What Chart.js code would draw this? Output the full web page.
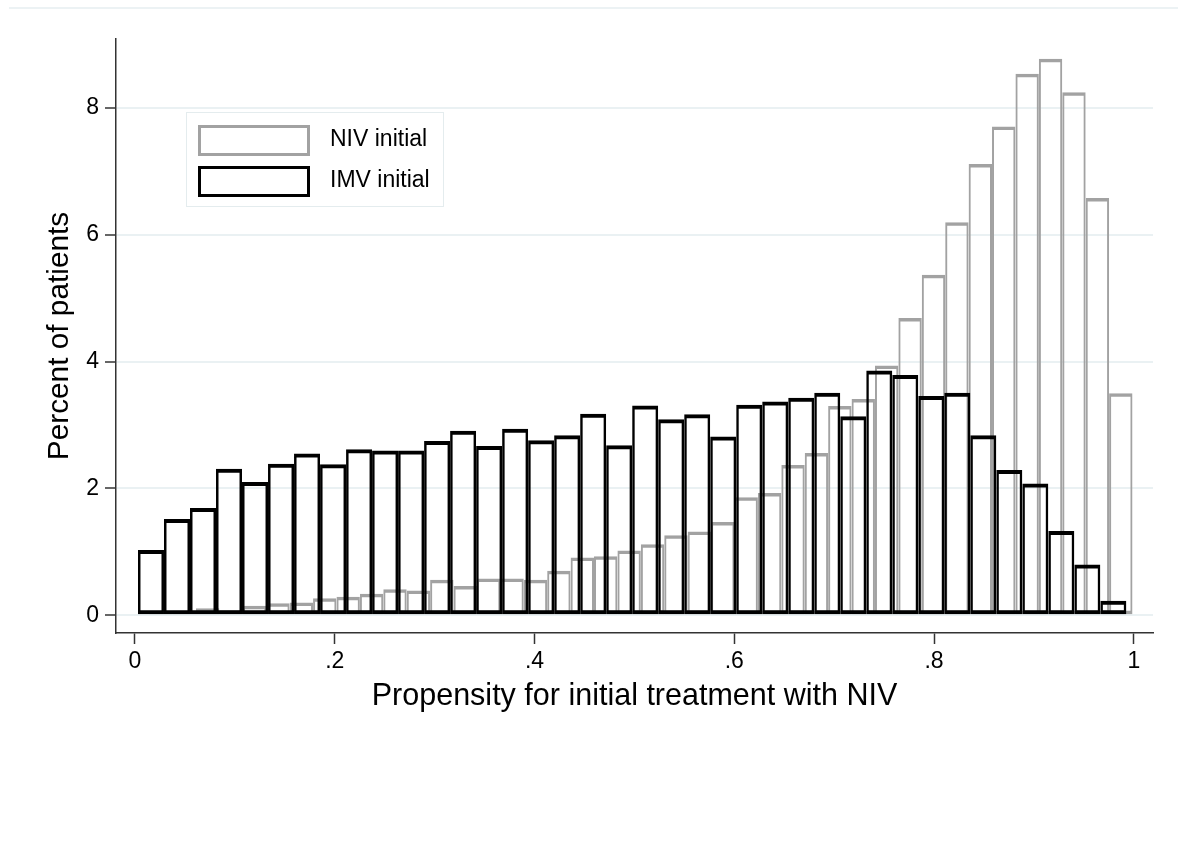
<!DOCTYPE html>
<html>
<head>
<meta charset="utf-8">
<script src="https://cdn.jsdelivr.net/npm/chart.js@4/dist/chart.umd.min.js"></script>
<style>
  body { margin: 0; background: #fff; }
  canvas { display: block; }
</style>
</head>
<body>
<canvas id="hist" width="1178" height="854"></canvas>
<script>
// histogram bins (propensity scale)
const nivStart = 0.0142;
const nivWidth = 0.02344;
const imvStart = 0.0030;
const imvWidth = 0.02604;

// percent of patients per bin
const nivValues = [0.04, 0.07, 0.11, 0.08, 0.15, 0.19, 0.20, 0.27, 0.29, 0.34,
  0.41, 0.39, 0.56, 0.46, 0.58, 0.58, 0.56, 0.70, 0.91, 0.93,
  1.02, 1.12, 1.26, 1.32, 1.47, 1.86, 1.93, 2.37, 2.56, 3.30,
  3.41, 3.94, 4.69, 5.37, 6.20, 7.12, 7.71, 8.54, 8.78, 8.25,
  6.58, 3.50];
const imvValues = [1.03, 1.52, 1.69, 2.31, 2.10, 2.39, 2.55, 2.38, 2.62, 2.60,
  2.60, 2.75, 2.91, 2.67, 2.94, 2.76, 2.84, 3.18, 2.68, 3.31,
  3.09, 3.17, 2.82, 3.32, 3.37, 3.43, 3.51, 3.14, 3.86, 3.79,
  3.46, 3.51, 2.84, 2.29, 2.08, 1.33, 0.80, 0.23];

const xTickValues = [0, 0.2, 0.4, 0.6, 0.8, 1];
const xTickLabels = ['0', '.2', '.4', '.6', '.8', '1'];
const yTickValues = [0, 2, 4, 6, 8];

const seriesNames = ['NIV initial', 'IMV initial'];

function toPoints(values, start, width) {
  return values.map((v, i) => ({ x: start + (i + 0.5) * width, y: v }));
}

Chart.defaults.font.family = '"Liberation Sans", Arial, sans-serif';
Chart.defaults.color = '#000';

const GRID = '#eaf1f3';
const AXIS = '#333';

// boxed legend inside the plot, plus the thin frame line at the top
const statalegend = {
  id: 'statalegend',
  beforeDraw(chart) {
    const ctx = chart.ctx;
    ctx.save();
    ctx.strokeStyle = '#e6eef0';
    ctx.lineWidth = 1.5;
    ctx.beginPath();
    ctx.moveTo(9, 8);
    ctx.lineTo(chart.width, 8);
    ctx.stroke();
    ctx.restore();
  },
  afterDraw(chart) {
    const ctx = chart.ctx;
    const a = chart.chartArea;
    const bx = a.left + 70, by = a.top + 73;
    ctx.save();
    ctx.strokeStyle = '#e4ecee';
    ctx.lineWidth = 1;
    ctx.strokeRect(bx + 0.5, by + 0.5, 257, 94);
    ctx.font = '23px "Liberation Sans", Arial, sans-serif';
    ctx.textBaseline = 'middle';
    ctx.fillStyle = '#000';
    const ds = chart.data.datasets;
    // legend follows the order NIV, IMV
    const order = [1, 0];
    order.forEach((di, row) => {
      const d = ds[di];
      const ky = by + 13 + row * 41;
      ctx.strokeStyle = d.borderColor;
      ctx.lineWidth = 3;
      ctx.strokeRect(bx + 13.5, ky + 1.5, 109, 28);
      ctx.fillText(d.label, bx + 144, ky + 15);
    });
    ctx.restore();
  }
};

const xCommon = {
  type: 'linear',
  min: -0.019,
  max: 1.0192,
  offset: false,
  afterBuildTicks: (axis) => { axis.ticks = xTickValues.map(v => ({ value: v })); }
};

new Chart(document.getElementById('hist'), {
  type: 'bar',
  data: {
    datasets: [
      {
        label: seriesNames[1],
        data: toPoints(imvValues, imvStart, imvWidth),
        xAxisID: 'x',
        order: 0,
        backgroundColor: 'rgba(0,0,0,0)',
        borderColor: '#000',
        borderWidth: { top: 4, bottom: 4, left: 2.5, right: 2.5 }
      },
      {
        label: seriesNames[0],
        data: toPoints(nivValues, nivStart, nivWidth),
        xAxisID: 'x2',
        order: 1,
        backgroundColor: 'rgba(0,0,0,0)',
        borderColor: '#a2a2a2',
        borderWidth: { top: 3.5, bottom: 3.5, left: 2, right: 2 }
      }
    ]
  },
  options: {
    responsive: false,
    animation: false,
    devicePixelRatio: 1,
    layout: { padding: { top: 39, left: 0, right: 25, bottom: 131 } },
    datasets: {
      bar: {
        grouped: false,
        barPercentage: 1,
        categoryPercentage: 1,
        borderSkipped: false,
        inflateAmount: 0
      }
    },
    plugins: {
      legend: { display: false },
      tooltip: { enabled: false }
    },
    scales: {
      x: Object.assign({}, xCommon, {
        position: 'bottom',
        afterFit: (s) => { s.height = 90; },
        grid: { offset: false, drawOnChartArea: false, drawTicks: true, tickLength: 11, tickColor: AXIS, tickWidth: 1.5 },
        border: { display: true, color: AXIS, width: 1.5 },
        ticks: {
          padding: 4,
          font: { size: 23 },
          maxRotation: 0,
          callback: (v, i) => xTickLabels[i]
        },
        title: {
          display: true,
          text: 'Propensity for initial treatment with NIV',
          font: { size: 30.5 },
          padding: { top: 0, bottom: 8 }
        }
      }),
      x2: Object.assign({}, xCommon, { display: false, grid: { offset: false } }),
      y: {
        type: 'linear',
        min: -0.28,
        max: 9.09,
        afterFit: (s) => { s.width = 116; },
        afterBuildTicks: (axis) => { axis.ticks = yTickValues.map(v => ({ value: v })); },
        grid: { color: GRID, lineWidth: 2, tickLength: 11, tickColor: AXIS, tickWidth: 1.5 },
        border: { display: true, color: AXIS, width: 1.5 },
        ticks: { padding: 6, font: { size: 23 } },
        title: {
          display: true,
          text: 'Percent of patients',
          font: { size: 29.8 },
          padding: { top: 42, bottom: 0 }
        }
      }
    }
  },
  plugins: [statalegend]
});
</script>
</body>
</html>
